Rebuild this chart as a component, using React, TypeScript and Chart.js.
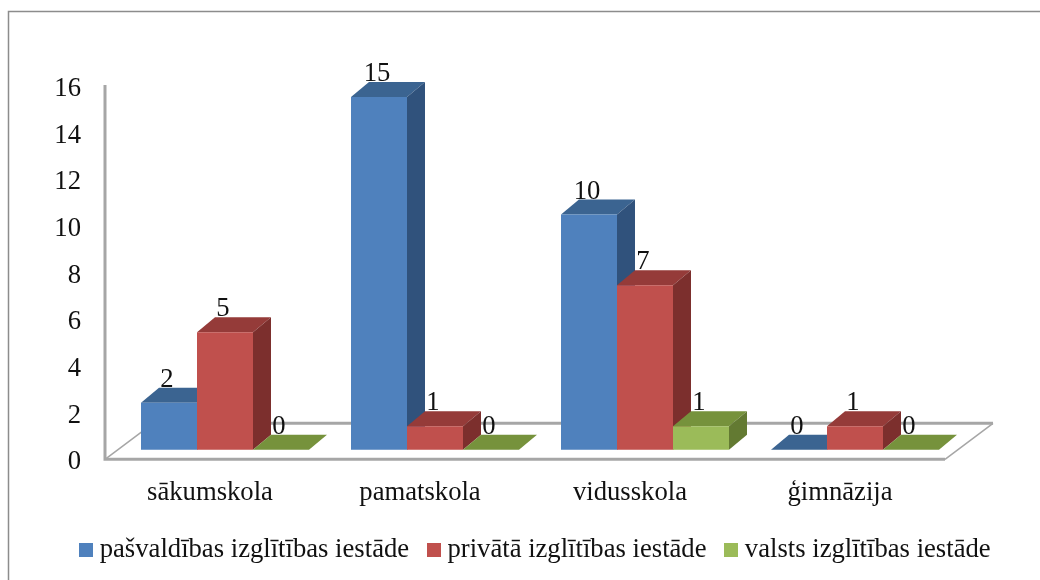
import React, { useEffect, useRef } from "react";
import { Chart, registerables } from "chart.js";

Chart.register(...registerables);

const categories = ["sākumskola", "pamatskola", "vidusskola", "ģimnāzija"];
const seriesNames = [
  "pašvaldības izglītības iestāde",
  "privātā izglītības iestāde",
  "valsts izglītības iestāde",
];
const municipal = [2, 15, 10, 0];
const privateSchools = [5, 1, 7, 1];
const stateSchools = [0, 0, 1, 0];
const axisTicks = [0, 2, 4, 6, 8, 10, 12, 14, 16];

const frontColors = ["#4f81bd", "#c0504d", "#9bbb59"];
const topColors = ["#3b6491", "#953b39", "#76923c"];
const sideColors = ["#30527c", "#7c2f2d", "#637a32"];

const FONT = '"Liberation Serif", "Times New Roman", serif';
const FONT_SIZE = 26.67;
const TEXT = "#111111";
const GRAY = "#a6a6a6";

// Oblique projection of the bars' depth, and of the floor's depth.
const BAR_DX = 18;
const BAR_DY = 15;
const FLOOR_DX = 48;
const FLOOR_DY = 36;

function swatch(color: string) {
  const c = document.createElement("canvas");
  c.width = 14;
  c.height = 14;
  const g = c.getContext("2d")!;
  g.fillStyle = color;
  g.fillRect(0, 0, 14, 14);
  return c;
}

const chart3d = {
  id: "chart3d",
  beforeDatasetsDraw(chart: any) {
    const { ctx } = chart;
    const yTicks = chart.scales.y;
    const xScale = chart.scales.x;
    const y0 = yTicks.getPixelForValue(0) + 1;
    const yTop = yTicks.getPixelForValue(16);
    const left = xScale.left - 15;
    const right = xScale.right - 15;
    ctx.save();
    // outer frame: only its top and left edges fall inside the picture
    ctx.strokeStyle = "#8c8c8c";
    ctx.lineWidth = 1.5;
    ctx.beginPath();
    ctx.moveTo(8.5, 580);
    ctx.lineTo(8.5, 11.5);
    ctx.lineTo(1040, 11.5);
    ctx.stroke();
    // floor
    ctx.strokeStyle = GRAY;
    ctx.lineWidth = 1.5;
    ctx.beginPath();
    ctx.moveTo(left, y0);
    ctx.lineTo(left + FLOOR_DX, y0 - FLOOR_DY);
    ctx.moveTo(right, y0);
    ctx.lineTo(right + FLOOR_DX, y0 - FLOOR_DY);
    ctx.stroke();
    ctx.lineWidth = 3;
    ctx.beginPath();
    ctx.moveTo(left + FLOOR_DX, y0 - FLOOR_DY);
    ctx.lineTo(right + FLOOR_DX, y0 - FLOOR_DY);
    ctx.stroke();
    ctx.beginPath();
    ctx.moveTo(left, yTop);
    ctx.lineTo(left, y0);
    ctx.lineTo(right, y0);
    ctx.stroke();
    ctx.restore();
  },
  // Datasets are painted below, left to right, so each box hides its left neighbour's side.
  beforeDatasetDraw() {
    return false;
  },
  afterDatasetsDraw(chart: any) {
    const { ctx } = chart;
    ctx.save();
    chart.data.datasets.forEach((_: any, i: number) => {
      chart.getDatasetMeta(i).data.forEach((bar: any) => {
        const { x, y, base, width } = bar.getProps(["x", "y", "base", "width"], true);
        const l = x - width / 2;
        const r = x + width / 2;
        ctx.fillStyle = topColors[i];
        ctx.beginPath();
        ctx.moveTo(l, y);
        ctx.lineTo(r, y);
        ctx.lineTo(r + BAR_DX, y - BAR_DY);
        ctx.lineTo(l + BAR_DX, y - BAR_DY);
        ctx.closePath();
        ctx.fill();
        ctx.fillStyle = sideColors[i];
        ctx.beginPath();
        ctx.moveTo(r, y);
        ctx.lineTo(r + BAR_DX, y - BAR_DY);
        ctx.lineTo(r + BAR_DX, base - BAR_DY);
        ctx.lineTo(r, base);
        ctx.closePath();
        ctx.fill();
        bar.draw(ctx);
      });
    });
    ctx.font = `${FONT_SIZE}px ${FONT}`;
    ctx.fillStyle = TEXT;
    ctx.textAlign = "center";
    ctx.textBaseline = "middle";
    chart.data.datasets.forEach((ds: any, i: number) => {
      chart.getDatasetMeta(i).data.forEach((bar: any, j: number) => {
        const { x, y } = bar.getProps(["x", "y"], true);
        ctx.fillText(String(ds.data[j]), x - 2, y - BAR_DY - 8);
      });
    });
    ctx.restore();
  },
};

export default function App() {
  const ref = useRef<HTMLCanvasElement>(null);
  useEffect(() => {
    const series = [municipal, privateSchools, stateSchools];
    const chart = new Chart(ref.current!, {
      type: "bar",
      plugins: [chart3d],
      data: {
        labels: categories,
        datasets: series.map((data, i) => ({
          label: seriesNames[i],
          data,
          backgroundColor: frontColors[i],
          borderWidth: 0,
          yAxisID: "yBars",
          categoryPercentage: 0.8,
          barPercentage: 1,
        })),
      },
      options: {
        responsive: false,
        animation: false,
        events: [],
        layout: { padding: { left: 36, top: 85, right: 0, bottom: 7 } },
        scales: {
          x: {
            grid: { display: false },
            border: { display: false },
            ticks: {
              color: TEXT,
              font: { family: FONT, size: FONT_SIZE },
              labelOffset: -15,
              padding: 11,
              maxRotation: 0,
            },
            afterFit(s: any) {
              s.height = 54;
            },
          },
          // Printed axis: it lies on the front plane of the floor.
          y: {
            position: "left",
            min: 0,
            max: 16,
            afterBuildTicks(s: any) {
              s.ticks = axisTicks.map((value) => ({ value }));
            },
            grid: { display: false },
            border: { display: false },
            ticks: {
              color: TEXT,
              font: { family: FONT, size: FONT_SIZE },
              padding: 31,
              labelOffset: 4,
            },
            afterFit(s: any) {
              s.width = 84;
            },
          },
          // The bars stand further back on the floor, so their zero lies higher.
          yBars: {
            position: "right",
            min: -0.3617,
            max: 15.51,
            grid: { display: false },
            border: { display: false },
            ticks: { display: false },
            afterFit(s: any) {
              s.width = 80;
            },
          },
        },
        plugins: {
          tooltip: { enabled: false },
          title: { display: false },
          legend: {
            position: "bottom",
            align: "center",
            labels: {
              color: TEXT,
              font: { family: FONT, size: FONT_SIZE },
              usePointStyle: true,
              pointStyleWidth: 1,
              boxHeight: 9,
              padding: 24,
              generateLabels(c: any) {
                const items = Chart.defaults.plugins.legend.labels.generateLabels(c);
                items.forEach((it: any) => {
                  it.pointStyle = swatch(frontColors[it.datasetIndex]);
                });
                return items;
              },
            },
          },
        },
      } as any,
    });
    return () => chart.destroy();
  }, []);
  return (
    <div style={{ position: "absolute", left: 0, top: 0, width: 1040, height: 580, background: "#fff" }}>
      <canvas ref={ref} width={1040} height={580} style={{ display: "block" }} />
    </div>
  );
}
